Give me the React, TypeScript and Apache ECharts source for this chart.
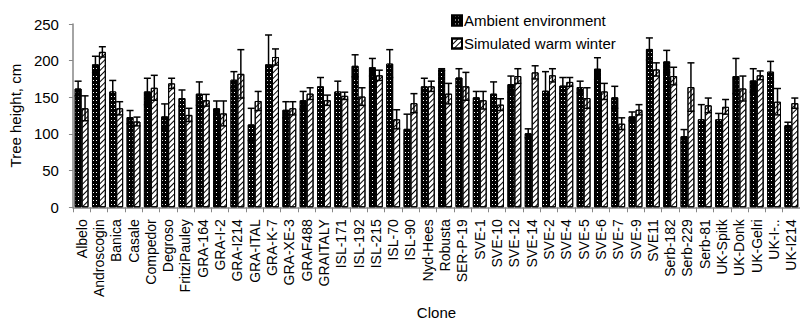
import React, { useEffect, useRef } from "react";
import * as echarts from "echarts";

const categories = [
  "Albelo", "Androscogin", "Banica", "Casale", "Compedor", "Degroso", "FritziPauley",
  "GRA-164", "GRA-I-2", "GRA-I214", "GRA-ITAL", "GRA-K-7", "GRA-XE-3", "GRAF488",
  "GRAITALY", "ISL-171", "ISL-192", "ISL-215", "ISL-70", "ISL-90", "Nyd-Hees",
  "Robusta", "SER-P-19", "SVE-1", "SVE-10", "SVE-12", "SVE-14", "SVE-2", "SVE-4",
  "SVE-5", "SVE-6", "SVE-7", "SVE-9", "SVE11", "Serb-182", "Serb-229", "Serb-81",
  "UK-Spitk", "UK-Donk", "UK-Gelri", "UK-I-..", "UK-I214",
];

const ambient = [
  162, 195, 158, 123, 158, 124, 149, 155, 135, 174, 113, 195, 133, 146, 165, 158,
  193, 191, 196, 107, 165, 188, 177, 150, 155, 168, 101, 159, 166, 164, 189, 150,
  124, 216, 199, 97, 120, 120, 179, 173, 185, 112,
];
const ambientErr = [
  10, 11, 15, 9, 18, 17, 11, 16, 10, 11, 22, 40, 11, 12, 12, 14,
  15, 12, 19, 20, 11, 1, 12, 8, 16, 11, 6, 26, 11, 8, 15, 15,
  6, 15, 15, 9, 20, 8, 24, 16, 14, 4,
];
const simulated = [
  135, 212, 135, 117, 163, 169, 126, 146, 128, 182, 145, 205, 135, 155, 146, 152,
  151, 180, 120, 142, 165, 155, 165, 146, 140, 179, 184, 180, 171, 149, 158, 114,
  133, 188, 179, 164, 139, 137, 162, 180, 144, 142,
];
const simulatedErr = [
  17, 7, 9, 6, 17, 7, 9, 8, 17, 33, 13, 11, 9, 8, 7, 5,
  12, 7, 13, 13, 7, 14, 19, 12, 8, 10, 9, 9, 6, 14, 11, 8,
  7, 9, 12, 33, 10, 10, 17, 6, 18, 7,
];

const yTicks = { min: 0, max: 250, interval: 50 };

const FONT = "Arial, 'Liberation Sans', sans-serif";

function errorSeries(name: string, values: number[], errs: number[], side: number) {
  return {
    type: "custom",
    name: name + " error",
    z: 10,
    silent: true,
    data: values.map((v, i) => [i, v, errs[i]]),
    renderItem: (params: any, api: any) => {
      const x = api.value(0);
      const v = api.value(1);
      const e = api.value(2);
      const band = api.size([1, 0])[0];
      const top = api.coord([x, v + e]);
      const bot = api.coord([x, Math.max(0, v - e)]);
      const cx = top[0] + side * band * 0.2;
      const cap = 3.5;
      const style = { stroke: "#000", lineWidth: 1.5 };
      return {
        type: "group",
        children: [
          { type: "line", shape: { x1: cx, y1: top[1], x2: cx, y2: bot[1] }, style },
          { type: "line", shape: { x1: cx - cap, y1: top[1], x2: cx + cap, y2: top[1] }, style },
          { type: "line", shape: { x1: cx - cap, y1: bot[1], x2: cx + cap, y2: bot[1] }, style },
        ],
      };
    },
  };
}

export default function App() {
  const ref = useRef<HTMLDivElement>(null);
  useEffect(() => {
    if (!ref.current) return;
    const chart = echarts.init(ref.current, undefined, { renderer: "svg" });
    chart.setOption({
      animation: false,
      backgroundColor: "#fff",
      textStyle: { fontFamily: FONT, color: "#000" },
      legend: {
        orient: "vertical",
        left: 446,
        top: 8,
        itemWidth: 10,
        itemHeight: 10,
        itemGap: 8,
        icon: "rect",
        data: ["Ambient environment", "Simulated warm winter"],
        textStyle: { fontFamily: FONT, fontSize: 15, color: "#000", padding: [0, 0, 0, -3] },
      },
      grid: { left: 70, right: -5, top: 24, bottom: 100 },
      xAxis: {
        type: "category",
        data: categories,
        name: "Clone",
        nameLocation: "middle",
        nameGap: 79,
        nameTextStyle: { fontFamily: FONT, fontSize: 15, color: "#000" },
        axisLine: { lineStyle: { color: "#868686", width: 1.5 } },
        axisTick: { show: true, length: 5, lineStyle: { color: "#868686" } },
        axisLabel: { rotate: 90, interval: 0, margin: 12, fontSize: 14, color: "#000", fontFamily: FONT },
      },
      yAxis: {
        type: "value",
        min: yTicks.min,
        max: yTicks.max,
        interval: yTicks.interval,
        name: "Tree height, cm",
        nameLocation: "middle",
        nameGap: 44,
        nameTextStyle: { fontFamily: FONT, fontSize: 15, color: "#000" },
        axisLine: { show: true, lineStyle: { color: "#868686", width: 1.5 } },
        axisTick: { show: true, length: 4, lineStyle: { color: "#868686" } },
        axisLabel: { margin: 14, fontSize: 15, color: "#000", fontFamily: FONT },
        splitLine: { show: false },
      },
      series: [
        {
          type: "bar",
          name: "Ambient environment",
          data: ambient,
          barGap: "0%",
          barCategoryGap: "20%",
          itemStyle: {
            color: "#000",
            borderColor: "#000",
            borderWidth: 1,
            decal: {
              symbol: "rect",
              symbolSize: 1,
              color: "#fff",
              dashArrayX: [1, 2],
              dashArrayY: [1, 3],
              rotation: 0,
            },
          },
        },
        {
          type: "bar",
          name: "Simulated warm winter",
          data: simulated,
          barGap: "0%",
          barCategoryGap: "20%",
          itemStyle: {
            color: "#fff",
            borderColor: "#000",
            borderWidth: 1,
            decal: {
              symbol: "rect",
              symbolSize: 1,
              color: "#000",
              dashArrayX: [1, 0],
              dashArrayY: [1, 3],
              rotation: -Math.PI / 4,
            },
          },
        },
        errorSeries("Ambient environment", ambient, ambientErr, -1),
        errorSeries("Simulated warm winter", simulated, simulatedErr, 1),
      ],
    });
    return () => chart.dispose();
  }, []);
  return (
    <div
      ref={ref}
      style={{ position: "fixed", left: 0, top: 0, width: 800, height: 325 }}
    />
  );
}
